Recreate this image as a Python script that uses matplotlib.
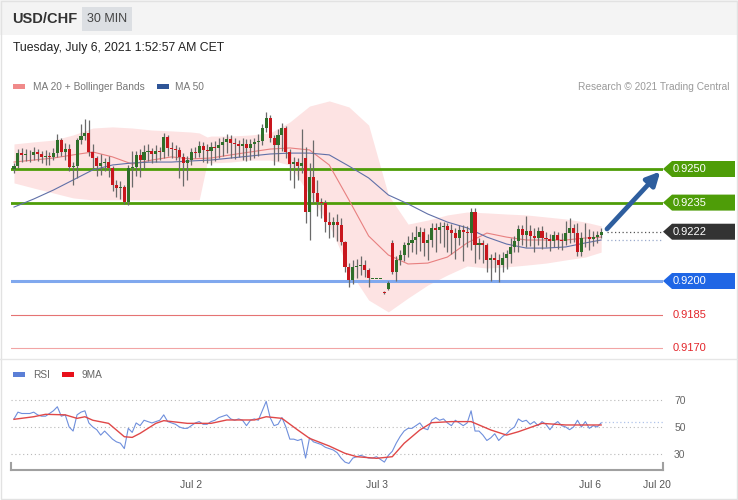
import numpy as np
import matplotlib
matplotlib.use("Agg")
import matplotlib.pyplot as plt
from matplotlib.patches import Rectangle, Polygon, FancyArrowPatch

plt.rcParams['font.family'] = ['Liberation Sans', 'DejaVu Sans']

# ---------------- data (prices as pips above BASE) ----------------
BASE = 0.9200
PIP = 0.0001

opens = [50.0, 51.3, 57.1, 56.3, 56.7, 56.3, 57.6, 56.7, 55.4, 55.8,
         55.4, 57.1, 62.9, 57.6, 58.9, 50.9, 51.5, 62.9, 64.7, 66.1,
         57.6, 54.9, 51.3, 52.7, 53.1, 50.4, 42.9, 41.5, 42.0, 35.3,
         50.4, 50.9, 56.3, 54.0, 57.6, 58.0, 56.7, 58.0, 57.6, 64.3,
         59.4, 58.9, 58.5, 55.4, 52.7, 54.0, 57.6, 57.1, 60.3, 58.5,
         58.0, 59.8, 59.4, 60.7, 62.1, 63.4, 61.6, 61.2, 60.3, 61.2,
         59.4, 61.2, 62.1, 62.5, 68.3, 72.8, 63.8, 60.7, 65.2, 68.3,
         57.6, 52.2, 53.1, 51.3, 54.9, 30.8, 46.4, 39.3, 35.3, 34.8,
         26.3, 25.0, 26.3, 25.0, 17.4, 6.3, 0.4, 6.3, 6.7, 7.1,
         4.9, 1.3, 1.3, 1.3, -4.9, -3.6, 17.0, 4.0, 9.4, 11.6,
         16.1, 17.0, 18.3, 19.6, 21.9, 17.0, 18.3, 23.7, 22.8, 24.1,
         24.6, 22.8, 21.4, 19.2, 22.8, 21.9, 21.4, 30.8, 16.1, 17.0,
         16.1, 9.4, 10.3, 9.4, 7.1, 10.3, 12.1, 15.2, 17.9, 23.2,
         20.5, 22.3, 20.1, 19.2, 22.3, 19.2, 18.8, 17.9, 20.5, 18.3,
         17.9, 21.4, 23.7, 21.4, 13.0, 19.2, 19.6, 18.8, 19.6, 20.5]

closes = [51.3, 57.1, 56.3, 56.7, 56.3, 57.6, 56.7, 55.4, 55.8, 55.4,
          57.1, 62.9, 57.6, 58.9, 50.9, 51.5, 62.9, 64.7, 66.1, 57.6,
          54.9, 51.3, 52.7, 53.1, 50.4, 42.9, 41.5, 42.0, 35.3, 50.4,
          50.9, 56.3, 54.0, 57.6, 58.0, 56.7, 58.0, 57.6, 64.3, 59.4,
          58.9, 58.5, 55.4, 52.7, 54.0, 57.6, 57.1, 60.3, 58.5, 58.0,
          59.8, 59.4, 60.7, 62.1, 63.4, 61.6, 61.2, 60.3, 61.2, 59.4,
          61.2, 62.1, 62.5, 68.3, 72.8, 63.8, 60.7, 65.2, 68.3, 57.6,
          52.2, 53.1, 51.3, 52.7, 30.8, 46.4, 39.3, 35.3, 34.8, 26.3,
          25.0, 26.3, 25.0, 17.4, 6.3, 0.4, 6.3, 6.7, 7.1, 4.9,
          1.3, 1.3, 1.3, 1.3, -5.4, -0.9, 4.0, 9.4, 11.6, 16.1,
          17.0, 18.3, 19.6, 21.9, 17.0, 18.3, 23.7, 22.8, 24.1, 24.6,
          22.8, 21.4, 19.2, 22.8, 21.9, 21.4, 30.8, 16.1, 17.0, 16.1,
          9.4, 10.3, 9.4, 7.1, 10.3, 12.1, 15.2, 17.9, 23.2, 20.5,
          22.3, 20.1, 19.2, 22.3, 19.2, 18.8, 17.9, 20.5, 18.3, 17.9,
          21.4, 23.7, 21.4, 13.0, 19.2, 19.6, 18.8, 19.6, 20.5, 21.9]

highs = [52.5, 59.0, 59.5, 59.0, 58.5, 60.0, 59.0, 58.0, 58.5, 57.5,
         59.5, 65.5, 64.0, 61.5, 61.0, 53.0, 64.0, 70.0, 72.5, 72.0,
         61.0, 56.0, 56.5, 55.0, 56.0, 51.5, 45.0, 44.5, 43.0, 52.0,
         58.0, 58.0, 59.0, 60.5, 61.0, 59.5, 60.5, 60.0, 66.0, 65.0,
         62.0, 60.5, 60.0, 57.0, 56.0, 59.5, 60.0, 62.5, 62.0, 61.0,
         62.0, 62.5, 64.0, 64.5, 65.5, 65.0, 64.0, 63.0, 64.0, 63.5,
         63.5, 64.0, 65.5, 70.0, 75.5, 74.0, 65.0, 68.0, 70.5, 69.0,
         59.0, 55.5, 55.0, 68.0, 60.0, 52.5, 63.0, 45.0, 37.0, 36.0,
         31.0, 28.5, 30.0, 28.0, 18.0, 8.0, 9.5, 10.0, 11.0, 9.5,
         6.0, 1.3, 1.3, 1.3, -4.5, 0.0, 18.5, 11.0, 14.0, 17.5,
         20.0, 22.0, 24.5, 24.0, 23.5, 21.0, 26.0, 26.0, 26.5, 26.5,
         26.0, 25.5, 23.5, 25.0, 25.0, 24.5, 32.5, 32.5, 19.0, 18.5,
         17.0, 12.0, 13.0, 12.0, 13.0, 14.0, 19.0, 20.0, 25.0, 25.0,
         29.0, 25.0, 23.5, 24.0, 24.5, 22.0, 21.0, 22.5, 22.0, 21.5,
         27.0, 28.0, 25.5, 26.0, 22.0, 26.0, 23.0, 22.5, 22.5, 23.5]

lows = [48.0, 50.5, 53.0, 53.5, 53.0, 54.0, 53.5, 52.5, 52.0, 52.0,
        54.0, 55.5, 56.0, 54.0, 49.0, 43.0, 46.0, 61.0, 63.0, 56.0,
        50.0, 47.0, 47.5, 49.0, 46.5, 40.0, 37.5, 36.5, 34.5, 34.0,
        42.0, 47.0, 46.5, 50.0, 53.5, 52.5, 53.0, 54.0, 55.0, 56.0,
        55.0, 54.0, 46.0, 42.5, 45.0, 52.0, 55.0, 55.5, 53.0, 52.5,
        52.0, 53.5, 55.0, 56.0, 57.0, 55.0, 54.5, 55.5, 54.0, 53.5,
        54.0, 55.0, 56.0, 60.5, 66.5, 62.0, 52.0, 53.5, 58.0, 55.0,
        45.0, 41.5, 45.0, 48.0, 26.0, 18.5, 35.0, 29.0, 28.0, 22.0,
        19.0, 19.5, 18.0, 16.0, 4.0, -2.5, -1.5, 1.5, 2.5, 2.0,
        -2.5, 1.3, 1.3, 1.3, -5.8, -4.0, 3.0, 0.0, 7.0, 9.0,
        10.5, 13.0, 12.0, 13.5, 11.0, 9.5, 15.0, 13.0, 17.0, 15.0,
        13.0, 12.0, 10.0, 16.0, 9.0, 15.0, 14.0, 8.0, 10.0, 8.0,
        4.0, 0.0, 4.0, -0.5, 4.0, 5.5, 8.0, 13.0, 13.0, 16.0,
        15.0, 15.5, 13.0, 16.0, 14.5, 15.0, 13.5, 15.0, 14.5, 14.0,
        16.0, 17.0, 17.5, 11.0, 11.0, 15.0, 14.0, 15.5, 17.0, 19.0]

# moving averages / Bollinger bands read at anchor candles
ma_idx = [0, 5, 10, 15, 20, 25, 30, 35, 40, 45, 50, 55, 60, 65, 70, 75, 80,
          85, 90, 95, 100, 105, 110, 115, 120, 125, 130, 135, 140, 145, 149]
ma20 = [53.1, 54.0, 54.9, 56.3, 57.6, 55.4, 52.2, 54.0, 55.4, 54.5, 54.9,
        56.3, 57.6, 58.9, 59.4, 58.5, 51.8, 36.2, 20.1, 11.6, 7.6, 8.0,
        10.7, 17.0, 21.4, 19.6, 18.3, 18.3, 18.3, 19.2, 19.6]
ma50 = [33.0, 36.6, 40.6, 45.1, 49.6, 51.8, 52.7, 53.1, 53.1, 53.6, 54.0,
        54.9, 55.8, 56.7, 57.1, 57.1, 56.3, 51.3, 46.0, 38.4, 34.4, 29.9,
        26.3, 23.7, 19.6, 16.5, 14.7, 14.7, 15.2, 17.0, 18.3]

band_idx = [0, 5, 10, 15, 20, 25, 30, 35, 40, 45, 47, 49, 50, 55, 60, 65, 70,
            75, 80, 85, 90, 95, 100, 105, 110, 115, 120, 125, 130, 135, 140,
            145, 149]
band_upper = [61.2, 62.1, 62.9, 65.2, 68.3, 68.8, 68.3, 67.4, 67.0, 66.5,
              66.1, 64.3, 64.7, 64.7, 65.2, 66.1, 71.0, 78.1, 80.4, 77.7,
              69.6, 38.4, 25.4, 27.2, 29.5, 30.8, 30.4, 29.9, 29.5, 28.6,
              27.7, 26.3, 24.6]
band_lower = [43.8, 41.5, 39.3, 37.1, 36.2, 36.2, 36.2, 36.2, 36.2, 36.2,
              36.2, 52.7, 52.7, 53.1, 54.0, 54.0, 51.8, 38.4, 25.0, 4.9,
              -8.5, -13.8, -7.6, -1.8, 2.7, 6.7, 5.8, 6.3, 7.1, 8.0, 9.4,
              10.7, 12.9]

levels = [0.9250, 0.9235, 0.9222, 0.9200, 0.9185, 0.9170]
level_labels = ["0.9250", "0.9235", "0.9222", "0.9200", "0.9185", "0.9170"]

rsi = [56, 61, 60, 60, 60, 61, 59, 58, 58, 60,
       62, 65, 58, 59, 50, 47, 59, 61, 62, 53,
       50, 48, 44, 47, 44, 41, 39, 38, 34, 49,
       46, 53, 51, 55, 54, 53, 54, 55, 59, 54,
       53, 52, 50, 49, 49, 51, 53, 54, 52, 52,
       54, 55, 57, 58, 59, 56, 55, 56, 55, 51,
       55, 56, 55, 62, 69, 57, 51, 52, 57, 50,
       41, 41, 40, 41, 27, 42, 39, 38, 37, 35,
       34, 33, 31, 27, 24, 23, 27, 28, 29, 28,
       27, 27, 28, 26, 24, 29, 32, 38, 43, 47,
       49, 49, 51, 53, 49, 48, 55, 57, 55, 56,
       53, 51, 55, 53, 51, 53, 62, 47, 47, 44,
       40, 42, 45, 40, 43, 45, 48, 50, 56, 54,
       55, 52, 54, 51, 54, 52, 48, 52, 54, 51,
       50, 48, 50, 55, 50, 54, 49, 51, 50, 53]
ma9_idx = [0, 5, 8, 13, 16, 18, 20, 24, 28, 30, 32, 36, 38, 44, 50, 54, 61,
           64, 68, 72, 75, 80, 84, 87, 92, 96, 99, 103, 106, 111, 116, 121,
           125, 128, 134, 140, 149]
ma9 = [55.7, 57.6, 59.4, 59.0, 56.4, 57.6, 55.0, 52.7, 42.8, 42.3, 45.3,
       52.7, 54.7, 52.7, 52.7, 55.2, 55.2, 57.6, 56.4, 47.8, 41.6, 35.9,
       30.5, 28.0, 26.8, 28.0, 37.9, 47.8, 53.2, 54.0, 54.0, 47.8, 44.0,
       46.5, 52.7, 51.5, 51.5]
rsi_levels = [30, 50, 70]
date_pos = [44.9, 92.1, 146.2, 163.2]
date_labels = ["Jul 2", "Jul 3", "Jul 6", "Jul 20"]

def px(v):
    return BASE + np.asarray(v, dtype=float) * PIP

O, Hh, L, C = px(opens), px(highs), px(lows), px(closes)
idx = np.arange(len(C))

# ---------------- figure ----------------
W, H = 738, 500
fig = plt.figure(figsize=(W / 100, H / 100), dpi=100)

bg = fig.add_axes([0, 0, 1, 1], zorder=0)
bg.set_xlim(0, W)
bg.set_ylim(H, 0)
bg.axis('off')
bg.add_patch(Rectangle((0, 0), W, 35, color='#f4f4f4', lw=0))
bg.add_patch(Rectangle((82, 7), 50, 24, color='#dcdfe3', lw=0))
bg.add_patch(Rectangle((0.5, 0.5), W - 1.5, H - 1.5, fill=False, ec='#e2e2e2', lw=1))
bg.plot([0, W], [359, 359], color='#e6e6e6', lw=1)
bg.text(12, 19, "USD/CHF", fontsize=10.5, fontweight='bold', color='#333333', va='center')
bg.text(107, 19, "30 MIN", fontsize=9, color='#444444', va='center', ha='center')
bg.text(13, 48, "Tuesday, July 6, 2021 1:52:57 AM CET", fontsize=8.8, color='#222222', va='center')
bg.add_patch(Rectangle((13, 84), 12, 5, color='#f08a8a', lw=0))
bg.text(33, 86.5, "MA 20 + Bollinger Bands", fontsize=7.3, color='#777777', va='center')
bg.add_patch(Rectangle((157, 84), 12, 5, color='#2f5597', lw=0))
bg.text(175, 86.5, "MA 50", fontsize=7.3, color='#777777', va='center')
bg.text(729, 86.5, "Research \u00a9 2021 Trading Central", fontsize=7.3, color='#9a9a9a',
        va='center', ha='right')
bg.add_patch(Rectangle((13, 372), 12, 5, color='#5b7fd6', lw=0))
bg.text(33, 374.5, "RSI", fontsize=7.3, color='#666666', va='center')
bg.add_patch(Rectangle((62, 372), 12, 5, color='#e8101a', lw=0))
bg.text(82, 374.5, "9MA", fontsize=7.3, color='#666666', va='center')


def px_axes(x0, y0, x1, y1, z=2):
    return fig.add_axes([x0 / W, 1 - y1 / H, (x1 - x0) / W, (y1 - y0) / H], zorder=z)

X0 = -0.76
X1 = 164.7
PXU = 652 / (X1 - X0)          # pixels per candle
PPY = 22400.0                  # pixels per price unit


def xi(xpix):
    return X0 + (xpix - 11) / PXU

ax = px_axes(11, 100, 663, 356)
ax.set_xlim(X0, X1)
ax.set_ylim(0.9250 - (356 - 169) / PPY, 0.9250 + (169 - 100) / PPY)
ax.axis('off')

# Bollinger band & MAs
ax.fill_between(band_idx, px(band_lower), px(band_upper), color='#fde3e3', lw=0, zorder=1)
ax.plot(ma_idx, px(ma20), color='#e88080', lw=0.8, zorder=3)
ax.plot(ma_idx, px(ma50), color='#6070a8', lw=0.8, zorder=3)

# level lines
lvl_style = {0.9250: ('#4e9d08', 2.0), 0.9235: ('#4e9d08', 2.0),
             0.9200: ('#80a8ee', 2.2), 0.9185: ('#e57373', 0.8),
             0.9170: ('#f2a5a5', 0.8)}
for lv, (col, lw) in lvl_style.items():
    ax.axhline(lv, color=col, lw=lw, zorder=2)

# candles
up = C >= O
colors = np.where(up, '#2f6f2a', '#c8161d')
ax.vlines(idx, L, Hh, color='#6a6a6a', lw=0.9, zorder=4)
body = np.where(np.abs(C - O) < 0.00004, 0.00004, C - O)
ax.bar(idx, body, bottom=np.where(np.abs(C - O) < 0.00004, O - 0.00002, O),
       width=0.78, color=colors, lw=0, zorder=5)

# current price dotted lines
ax.plot([idx[-1] + 1.5, X1], [levels[2]] * 2, color='#555555', lw=0.9, ls=(0, (1, 2)), zorder=3)
ax.plot([idx[-1] + 1.5, X1], [px(ma50[-1])] * 2, color='#9aaacc', lw=0.9, ls=(0, (1, 2)), zorder=3)

# tags
hh = 8 / PPY
tag_cols = {0.9250: '#4e9d08', 0.9235: '#4e9d08', 0.9222: '#333333', 0.9200: '#1f66e5'}
for lv, lab in zip(levels, level_labels):
    if lv in tag_cols:
        poly = Polygon([(X1, lv), (xi(672), lv + hh), (xi(735), lv + hh),
                        (xi(735), lv - hh), (xi(672), lv - hh)], closed=True,
                       color=tag_cols[lv], lw=0, clip_on=False, zorder=6)
        ax.add_patch(poly)
        ax.text(xi(673), lv, lab, color='white', fontsize=8, va='center', ha='left',
                clip_on=False, zorder=7)
    else:
        ax.text(xi(673), lv, lab, color='#e3262b', fontsize=8, va='center', ha='left',
                clip_on=False, zorder=7)

# arrow
arr = FancyArrowPatch((idx[-1] + 1.0, levels[2] + 0.00003), (X1 - 0.2, levels[0] - 0.00002),
                      arrowstyle='-|>', mutation_scale=20, lw=3.4, color='#2e5e9e',
                      clip_on=False, zorder=8)
ax.add_patch(arr)

# ---------------- RSI panel ----------------
rax = px_axes(11, 380, 663, 470)
rax.set_xlim(X0, X1)
rax.set_ylim(50 - (470 - 427) / 1.35, 50 + (427 - 380) / 1.35)
for s in ['top', 'left', 'right']:
    rax.spines[s].set_visible(False)
rax.spines['bottom'].set_color('#a0a0a0')
rax.spines['bottom'].set_linewidth(1.5)
for lv in rsi_levels:
    rax.axhline(lv, color='#b8b8b8', lw=0.8, ls=(0, (1, 2.5)), zorder=1)
rax.plot(idx, rsi, color='#6f8fdc', lw=0.8, zorder=3)
rax.plot(ma9_idx, ma9, color='#e04848', lw=1.0, zorder=4)
rax.plot([idx[-1], X1], [54, 54], color='#b0c4ea', lw=0.9, ls=(0, (1, 2)), zorder=2)
ylo = rax.get_ylim()[0]
for xe in (X0 + 0.1, X1 - 0.1):
    rax.plot([xe, xe], [ylo, ylo + 5], color='#a0a0a0', lw=1.5, clip_on=False)
rax.yaxis.tick_right()
rax.set_yticks(rsi_levels)
rax.set_yticklabels([str(v) for v in rsi_levels])
rax.tick_params(axis='y', length=0, pad=8, labelsize=7.5, labelcolor='#666666')
rax.set_xticks(date_pos)
rax.set_xticklabels(date_labels)
rax.tick_params(axis='x', length=0, pad=7, labelsize=7.5, labelcolor='#555555')

fig.savefig("out.png", dpi=100)
